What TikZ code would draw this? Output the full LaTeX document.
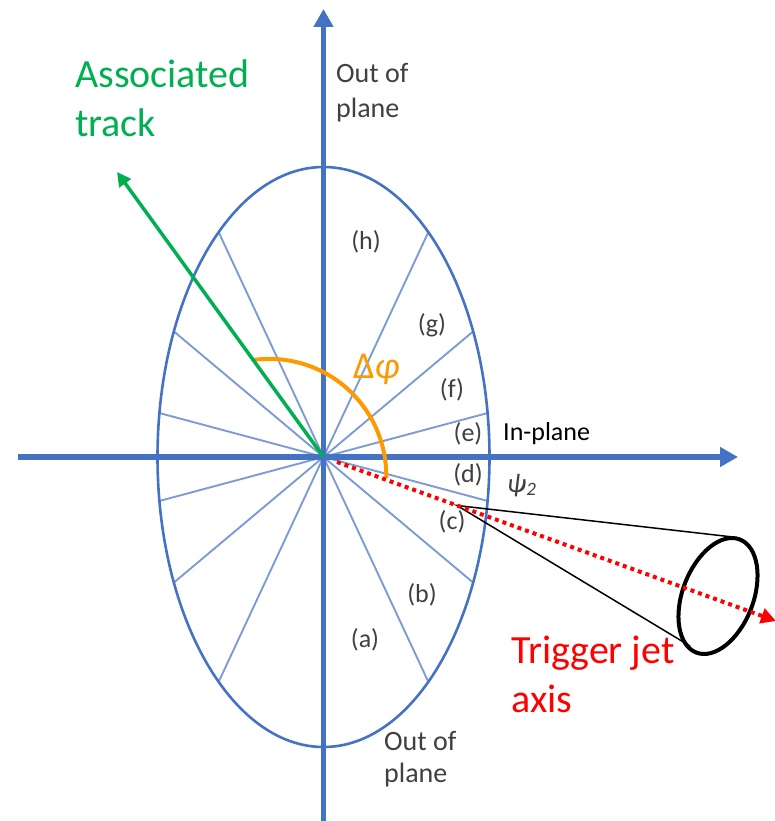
\documentclass[tikz,border=0pt]{standalone}
\usepackage{fontspec}
\setmainfont{Carlito}
\usetikzlibrary{arrows.meta,shapes.geometric}
\definecolor{axisblue}{RGB}{68,114,196}
\definecolor{lineblue}{RGB}{125,155,212}
\definecolor{trackgreen}{RGB}{0,176,80}
\definecolor{dphiorange}{RGB}{255,153,0}
\definecolor{labelgray}{RGB}{64,64,64}
\definecolor{jetred}{RGB}{255,0,0}
\begin{document}
\begin{tikzpicture}[x=1pt,y=-1pt,
  axisline/.style={line width=5.5pt, draw=axisblue, -{Triangle[length=18pt,width=19pt]}},
  ellipseline/.style={line width=2.6pt, draw=axisblue},
  radialline/.style={line width=1.9pt, draw=lineblue},
  regionlabel/.style={text=labelgray, font=\fontsize{26}{30}\selectfont, inner sep=0pt},
  planelabel/.style={text=labelgray, align=left, inner sep=0pt, anchor=base west},
  dphiarc/.style={line width=4pt, draw=dphiorange},
  trackarrow/.style={line width=3.5pt, draw=trackgreen, -{Triangle[length=14pt,width=14pt]}},
  jetaxis/.style={line width=4pt, draw=jetred, dash pattern=on 4pt off 4pt, -{Triangle[length=15pt,width=15pt]}},
  conestyle/.style={line width=1.5pt, draw=black},
  jetring/.style={ellipse, draw=black, line width=4pt, inner sep=0pt, minimum width=70.8pt, minimum height=121.2pt},
  bigtext/.style={align=left, inner sep=0pt, anchor=base west, font=\fontsize{40}{49}\selectfont}
]
\fill[white] (0,0) rectangle (774,821);
\useasboundingbox (0,0) rectangle (774,821);

\coordinate (O) at (323.5,457);
\coordinate (vbot) at (323.5,821);
\coordinate (vtop) at (323.5,9);
\coordinate (hleft) at (18,457);
\coordinate (hright) at (738,457);

% radial sector lines
\begin{scope}
  \clip (O) ellipse [x radius=166, y radius=290];
  \foreach \a in {15,40,65,115,140,165,195,220,245,295,320,345}
    \draw[radialline] (O) -- ++(\a:400);
\end{scope}
\draw[ellipseline] (O) ellipse [x radius=166, y radius=290];

% axes
\draw[axisline] (vbot) -- (vtop);
\draw[axisline] (hleft) -- (hright);

% delta phi arc
\coordinate (arcstart) at (253,360);
\draw[dphiarc] (arcstart) arc [start angle=-98, end angle=1, radius=117];

% associated track
\coordinate (tracktip) at (117,172);
\draw[trackarrow] (O) -- (tracktip);

% jet cone
\coordinate (apex) at (457,505.5);
\coordinate (coneup) at (733,537);
\coordinate (conelow) at (690,646);
\draw[conestyle] (coneup) -- (apex) -- (conelow);
\node[jetring, rotate=-21] (ring) at (718,596) {};

% trigger jet axis
\coordinate (jetstart) at (337,462);
\coordinate (jettip) at (776,621);
\draw[jetaxis] (jetstart) -- (jettip);

% region labels
\foreach \n/\x/\y in {a/365/640, b/422/595, c/452/522, d/468/475, e/468/434, f/452/390, g/432/325, h/366/242}
  \node[regionlabel] (lab\n) at (\x,\y) {(\n)};

% texts (multi-line nodes: base anchor is the last line's baseline)
\node[planelabel, font=\fontsize{28}{35}\selectfont] (outtop) at (336,118) {Out of\\plane};
\node[planelabel, font=\fontsize{28}{32}\selectfont] (outbot) at (384,782) {Out of\\plane};
\node[anchor=base west, inner sep=0pt, font=\fontsize{26}{30}\selectfont] (inplane) at (503,440) {In-plane};
\node[anchor=base west, inner sep=0pt, text=labelgray, font=\fontsize{27}{30}\selectfont\itshape] (psi) at (507,492) {ψ\textsubscript{2}};
\node[anchor=base west, inner sep=0pt, text=dphiorange, font=\fontsize{38}{44}\selectfont] (dphi) at (353,378) {Δ\textit{φ}};
\node[bigtext, text=trackgreen] (assoc) at (75,137) {Associated\\track};
\node[bigtext, text=jetred] (trig) at (511,712) {Trigger jet\\axis};
\end{tikzpicture}
\end{document}
